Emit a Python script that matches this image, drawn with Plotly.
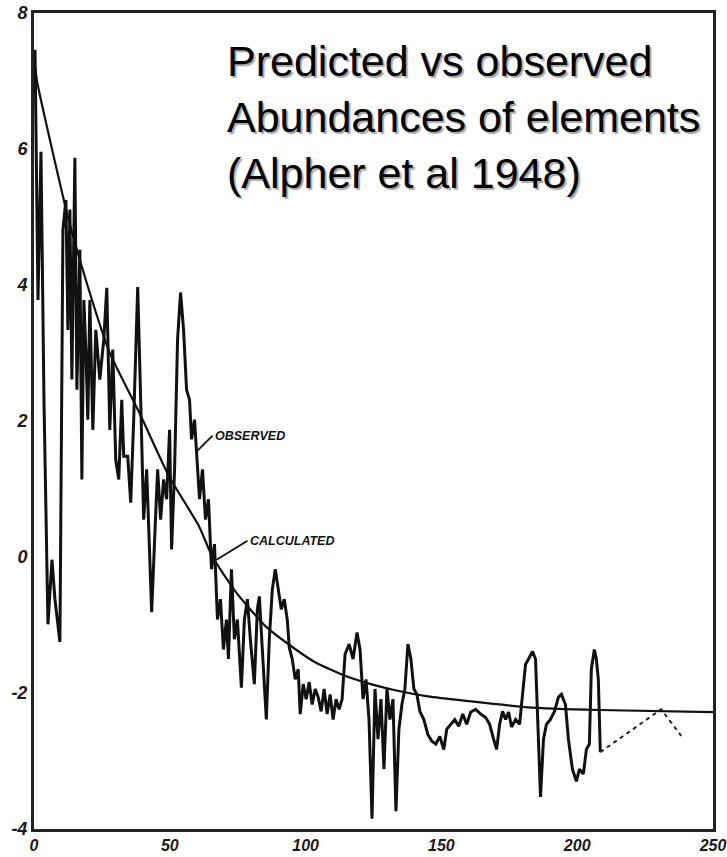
import plotly.graph_objects as go

# Observed abundances (log scale) against atomic weight
obs_weight = [
    0.37, 1.47, 2.57, 3.67, 5.14, 6.61, 7.71, 9.54, 10.65, 11.75,
    12.48, 13.22, 13.95, 15.05, 15.79, 16.89, 17.62, 18.36, 19.09, 19.82,
    20.56, 21.66, 22.76, 24.23, 25.70, 26.80, 27.90, 29.00, 30.10, 31.20,
    32.31, 33.04, 34.51, 35.61, 36.71, 38.18, 39.28, 40.38, 41.48, 42.58,
    43.32, 44.42, 45.52, 46.62, 47.72, 48.83, 49.93, 50.66, 51.76, 52.86,
    53.96, 55.07, 56.17, 57.27, 58.00, 59.10, 59.84, 60.94, 62.04, 63.14,
    64.24, 65.35, 66.45, 67.55, 68.65, 69.75, 70.85, 71.59, 72.69, 73.79,
    74.89, 76.36, 77.46, 78.56, 79.66, 81.13, 82.23, 82.97, 84.07, 85.54,
    86.64, 87.74, 88.84, 89.94, 91.04, 92.14, 93.25, 93.98, 95.08, 96.18,
    97.28, 98.02, 99.12, 100.22, 101.32, 102.42, 103.52, 104.63, 105.73, 106.83,
    107.93, 109.03, 110.13, 111.23, 112.33, 113.44, 114.54, 116.01, 117.47, 118.94,
    120.04, 121.15, 122.25, 123.35, 124.45, 125.55, 126.65, 127.75, 128.85, 129.96,
    131.06, 132.16, 133.26, 134.36, 135.46, 136.56, 137.67, 138.77, 139.87, 140.97,
    142.07, 143.54, 145.01, 146.48, 147.94, 149.41, 150.88, 151.98, 153.45, 154.92,
    156.39, 157.86, 159.32, 160.79, 162.63, 164.46, 166.30, 167.77, 169.24, 170.34,
    171.44, 172.54, 173.64, 174.74, 175.84, 177.31, 178.78, 179.88, 180.98, 182.09,
    183.55, 184.65, 185.76, 186.49, 187.59, 188.69, 190.16, 191.63, 193.10, 194.20,
    195.67, 196.77, 198.24, 199.71, 200.81, 202.28, 203.38, 204.48, 205.21, 206.31,
    207.05, 207.78, 208.52,
]
obs_log_abundance = [
    7.46, 3.78, 5.96, 2.31, -0.99, -0.04, -0.62, -1.25, 4.81, 5.25,
    3.34, 5.11, 2.61, 5.87, 2.46, 4.52, 1.14, 3.78, 3.05, 2.02,
    3.78, 1.87, 3.34, 2.61, 3.20, 3.96, 1.87, 3.05, 1.43, 1.14,
    2.31, 1.48, 1.48, 0.80, 2.02, 3.97, 2.31, 0.55, 1.29, -0.04,
    -0.81, 0.26, 1.29, 0.55, 1.14, 0.85, 1.87, 0.11, 1.29, 3.20,
    3.89, 3.34, 2.46, 2.31, 1.73, 2.02, 1.55, 0.85, 1.29, 0.55,
    0.85, -0.18, 0.19, -0.92, -0.62, -1.36, -0.92, -1.50, -0.18, -1.21,
    -0.92, -1.92, -0.92, -0.62, -1.21, -1.87, -0.77, -0.58, -1.36, -2.39,
    -1.21, -0.48, -0.18, -0.48, -0.77, -0.62, -0.92, -1.33, -1.50, -1.80,
    -1.65, -2.31, -1.87, -2.09, -1.84, -2.17, -1.94, -2.06, -2.27, -1.94,
    -2.31, -2.02, -2.39, -2.09, -2.24, -2.09, -1.43, -1.28, -1.50, -1.11,
    -1.36, -2.09, -1.80, -2.39, -3.85, -1.94, -2.68, -2.09, -3.12, -1.94,
    -2.39, -2.09, -3.74, -2.53, -2.17, -1.94, -1.28, -1.50, -1.94, -2.02,
    -2.27, -2.39, -2.61, -2.71, -2.75, -2.64, -2.83, -2.53, -2.46, -2.39,
    -2.49, -2.31, -2.46, -2.28, -2.24, -2.31, -2.36, -2.46, -2.68, -2.83,
    -2.46, -2.27, -2.39, -2.28, -2.50, -2.39, -2.46, -2.02, -1.58, -1.50,
    -1.39, -1.50, -2.68, -3.53, -2.68, -2.46, -2.39, -2.27, -2.06, -2.02,
    -2.17, -2.68, -3.12, -3.30, -3.12, -3.19, -2.83, -2.75, -1.65, -1.36,
    -1.50, -1.80, -2.87,
]

# Sparse observed points beyond the measured range (dotted)
tail_weight = [208.52, 230.9, 238.3]
tail_log_abundance = [-2.87, -2.24, -2.63]

# Calculated abundance curve
calc_weight = [0, 1.1, 12.5, 20.5, 27.8, 38.8, 49.8, 60.8, 65.6, 74.4,
               85.3, 96.4, 104.0, 114.8, 124.0, 133.0, 145.0, 160.0, 181.7, 208.0, 250.0]
calc_log_abundance = [7.35, 7.00, 5.00, 3.89, 3.01, 2.12, 1.18, 0.45, 0.01, -0.52,
                      -1.02, -1.36, -1.56, -1.75, -1.87, -1.96, -2.05, -2.12, -2.21, -2.25, -2.28]

x_ticks = [0, 50, 100, 150, 200, 250]
x_tick_text = ["0", "50", "100", "150", "200", "250"]
y_ticks = [-4, -2, 0, 2, 4, 6, 8]
y_tick_text = ["-4", "-2", "0", "2", "4", "6", "8"]

INK = "#111111"

fig = go.Figure()

fig.add_trace(go.Scatter(
    x=calc_weight, y=calc_log_abundance, mode="lines",
    line=dict(color=INK, width=2.2, shape="spline", smoothing=0.5),
    hoverinfo="skip",
))
fig.add_trace(go.Scatter(
    x=obs_weight, y=obs_log_abundance, mode="lines",
    line=dict(color=INK, width=3),
    hoverinfo="skip",
))
fig.add_trace(go.Scatter(
    x=tail_weight, y=tail_log_abundance, mode="lines",
    line=dict(color="#222222", width=2, dash="4px,4px"),
    hoverinfo="skip",
))

x_tick_font = dict(family="Liberation Sans", size=16, color="#1a1a1a", style="italic", weight="bold")
y_tick_font = dict(family="Liberation Sans", size=18, color="#1a1a1a", style="italic", weight="bold")

fig.update_xaxes(
    range=[0, 250], tickvals=x_ticks, ticktext=x_tick_text,
    showgrid=False, zeroline=False, ticks="",
    showline=True, linecolor="#222222", linewidth=3, mirror=True,
    tickfont=x_tick_font, automargin=False,
)
fig.update_yaxes(
    range=[-4, 8], tickvals=y_ticks, ticktext=y_tick_text,
    showgrid=False, zeroline=False, ticks="",
    showline=True, linecolor="#222222", linewidth=3, mirror=True,
    tickfont=y_tick_font, ticklabelstandoff=0, automargin=False,
)

label_font = dict(family="Liberation Sans", size=12.5, color=INK, style="italic", weight="bold")

fig.add_annotation(
    x=59.84, y=1.55, text="OBSERVED", showarrow=True, arrowhead=0,
    arrowwidth=1.8, arrowcolor=INK, ax=16, ay=-16,
    xanchor="left", yanchor="middle", font=label_font,
)
fig.add_annotation(
    x=67.2, y=-0.04, text="CALCULATED", showarrow=True, arrowhead=0,
    arrowwidth=1.8, arrowcolor=INK, ax=31, ay=-19,
    xanchor="left", yanchor="middle", font=label_font,
)

fig.add_annotation(
    xref="paper", yref="paper", x=0.282, y=0.973,
    xanchor="left", yanchor="top", align="left", showarrow=False,
    text="Predicted vs observed<br>Abundances of elements<br>(Alpher et al 1948)",
    font=dict(family="Liberation Sans", size=43, color="#000000",
              shadow="2px 2px 1px #a8a8a8"),
)

fig.update_layout(
    width=727, height=857,
    margin=dict(l=34, r=14, t=13, b=28),
    paper_bgcolor="white", plot_bgcolor="white",
    showlegend=False,
)

fig.write_html("out.html")
